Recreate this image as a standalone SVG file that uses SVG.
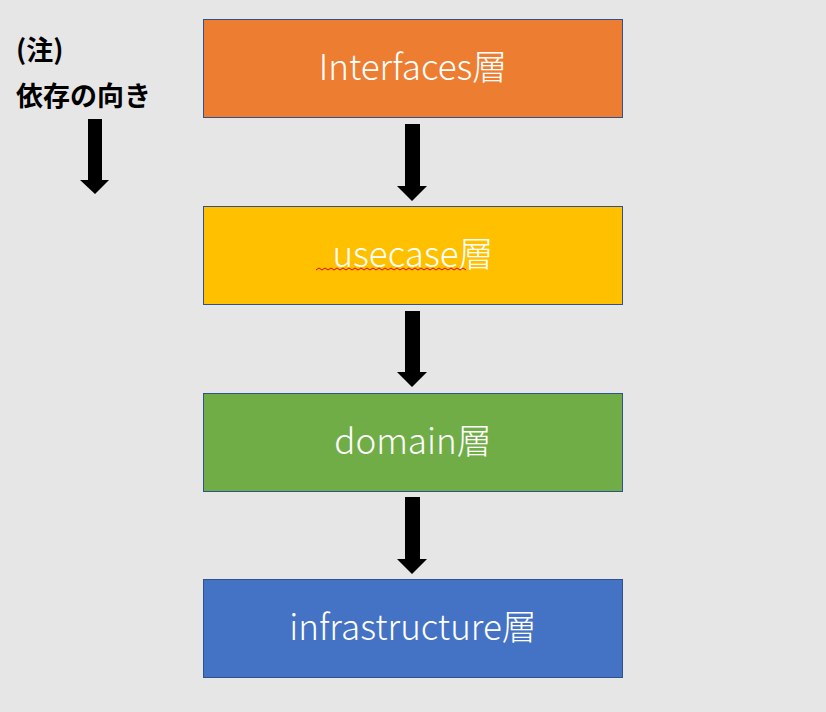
<svg xmlns="http://www.w3.org/2000/svg" width="826" height="712" viewBox="0 0 826 712">
<style>
.box{stroke:#2F528F;stroke-width:1}
.lbl{font-family:"Noto Sans CJK JP","Noto Sans",sans-serif;font-weight:300;font-size:35px;fill:#fff;text-anchor:middle}
.note{font-family:"Noto Sans CJK JP",sans-serif;font-weight:700;font-size:27px;fill:#000}
.arr{fill:#000}
</style>
<rect width="826" height="712" fill="#E7E6E6"/>
<g id="note">
<text class="note" x="16" y="60">(注)</text>
<text class="note" x="16" y="106">依存の向き</text>
<polygon class="arr" points="88,119 102,119 102,180 109,180 95,194 80,180 88,180"/>
</g>
<g id="interfaces"><rect class="box" x="203.5" y="19.5" width="419" height="98" fill="#ED7D31"/><text class="lbl" x="413" y="80">Interfaces層</text></g>
<g id="usecase"><rect class="box" x="203.5" y="206.5" width="419" height="98" fill="#FFC000"/><text class="lbl" x="413" y="267">usecase層</text>
<path d="M316,270 l3,-2 l3,2 l3,-2 l3,2 l3,-2 l3,2 l3,-2 l3,2 l3,-2 l3,2 l3,-2 l3,2 l3,-2 l3,2 l3,-2 l3,2 l3,-2 l3,2 l3,-2 l3,2 l3,-2 l3,2 l3,-2 l3,2 l3,-2 l3,2 l3,-2 l3,2 l3,-2 l3,2 l3,-2 l3,2 l3,-2 l3,2 l3,-2 l3,2 l3,-2 l3,2 l3,-2 l3,2 l3,-2 l3,2 l3,-2 l3,2 l3,-2 l3,2 l3,-2 l3,2 l3,-2 l3,2" fill="none" stroke="#E00" stroke-width="1"/></g>
<g id="domain"><rect class="box" x="203.5" y="393.5" width="419" height="98" fill="#70AD47"/><text class="lbl" x="413" y="454">domain層</text></g>
<g id="infrastructure"><rect class="box" x="203.5" y="579.5" width="419" height="98" fill="#4472C4"/><text class="lbl" x="413" y="640">infrastructure層</text></g>
<g id="connectors">
<polygon class="arr" points="405,124 420,124 420,186 427,186 412,201 397,186 405,186"/>
<polygon class="arr" points="405,311 420,311 420,372 427,372 412,387 397,372 405,372"/>
<polygon class="arr" points="405,497 420,497 420,559 427,559 412,574 397,559 405,559"/>
</g>
</svg>
